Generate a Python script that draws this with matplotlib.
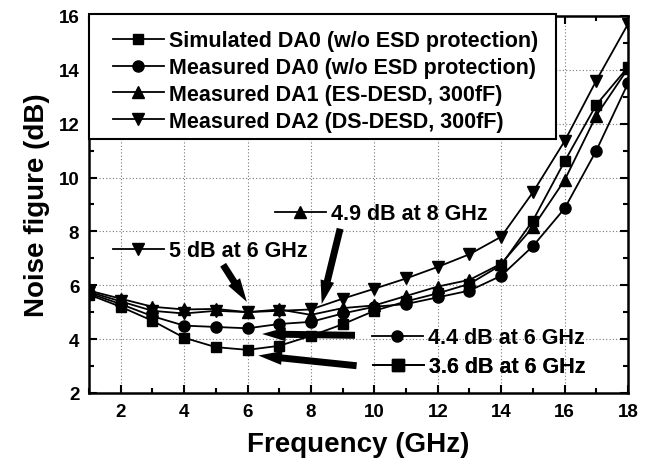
import numpy as np
import matplotlib
matplotlib.use("Agg")
import matplotlib.pyplot as plt
from matplotlib.lines import Line2D
from matplotlib.patches import Rectangle

plt.rcParams['font.family'] = ['Liberation Sans', 'DejaVu Sans']
plt.rcParams['font.weight'] = 'bold'

# noise figure data, 1-18 GHz
freq = [1, 2, 3, 4, 5, 6, 7, 8, 9, 10, 11, 12, 13, 14, 15, 16, 17, 18]
sim_da0 = [5.65, 5.2, 4.68, 4.05, 3.7, 3.6, 3.75, 4.12, 4.55, 5.05, 5.4, 5.7,
           6.05, 6.75, 8.4, 10.6, 12.7, 14.1]
meas_da0 = [5.7, 5.3, 4.85, 4.5, 4.45, 4.4, 4.56, 4.64, 4.95, 5.2, 5.3, 5.55,
            5.8, 6.35, 7.45, 8.85, 11.0, 13.5]
meas_da1 = [5.8, 5.5, 5.2, 5.1, 5.12, 5.0, 5.1, 4.9, 5.15, 5.25, 5.6, 5.95,
            6.2, 6.8, 8.15, 9.9, 12.3, 14.05]
meas_da2 = [5.75, 5.4, 5.05, 4.95, 5.05, 5.0, 5.05, 5.1, 5.5, 5.87, 6.25, 6.68,
            7.15, 7.8, 9.45, 11.35, 13.6, 15.7]

names = ['Simulated DA0 (w/o ESD protection)',
         'Measured DA0 (w/o ESD protection)',
         'Measured DA1 (ES-DESD, 300fF)',
         'Measured DA2 (DS-DESD, 300fF)']
markers = ['s', 'o', '^', 'v']
msizes = [7.5, 8, 8.5, 8.5]

fig = plt.figure(figsize=(6.52, 4.64), dpi=100)
ax = fig.add_axes([0.1365, 0.151, 0.8267, 0.8125])

series = [sim_da0, meas_da0, meas_da1, meas_da2]
for ys, m, ms, name in zip(series, markers, msizes, names):
    ax.plot(freq, ys, color='k', lw=1.3, marker=m, ms=ms, label=name)

ax.set_xlim(1, 18)
ax.set_ylim(2, 16)
ax.set_xticks(np.arange(2, 19, 2))
ax.set_yticks(np.arange(2, 17, 2))
ax.set_xticks(np.arange(1, 19, 1), minor=True)
ax.set_yticks(np.arange(3, 16, 2), minor=True)
ax.tick_params(which='both', direction='in', top=True, right=True, width=1.5)
ax.tick_params(which='major', length=6, labelsize=13.5, pad=7)
ax.tick_params(which='minor', length=3.5)
for s in ax.spines.values():
    s.set_linewidth(1.8)
ax.grid(True, which='major', color='#777777', linestyle=(0, (1, 2)), lw=0.8)

ax.set_xlabel('Frequency (GHz)', fontsize=20, fontweight='bold', labelpad=8)
ax.set_ylabel('Noise figure (dB)', fontsize=20, fontweight='bold', labelpad=6)

# legend box drawn by hand so the side padding can be wider than top/bottom
box = Rectangle((0, 0.674), 0.866, 0.331, transform=ax.transAxes,
                facecolor='white', edgecolor='k', lw=1.5, zorder=4.5,
                clip_on=False)
ax.add_patch(box)
leg = ax.legend(loc='upper left', bbox_to_anchor=(0.0445, 0.962),
                borderaxespad=0, borderpad=0, frameon=False,
                fontsize=15.5, handlelength=2.35, handletextpad=0.25,
                labelspacing=0.27)
ax.add_artist(leg)

# little marker tags next to the arrows
tags = [('v', '5 dB at 6 GHz', 0.0445, 0.377),
        ('^', '4.9 dB at 8 GHz', 0.345, 0.475),
        ('o', '4.4 dB at 6 GHz', 0.525, 0.146),
        ('s', '3.6 dB at 6 GHz', 0.527, 0.069)]
for m, txt, x, y in tags:
    h = Line2D([], [], color='k', lw=1.3, marker=m, ms=8.5 if m in '^v' else 8)
    t = ax.legend(handles=[h], labels=[txt], loc='center left',
                  bbox_to_anchor=(x, y), borderaxespad=0, borderpad=0,
                  frameon=False, fontsize=15.5, handlelength=2.35,
                  handletextpad=0.25)
    ax.add_artist(t)

# arrows (tail -> tip)
arrows = [((5.23, 6.76), (5.98, 5.38)),
          ((8.92, 8.1), (8.34, 5.3)),
          ((9.39, 4.14), (6.46, 4.19)),
          ((9.44, 3.01), (6.34, 3.39))]
for tail, tip in arrows:
    ax.annotate('', xy=tip, xytext=tail,
                arrowprops=dict(arrowstyle='simple,head_length=1.7,head_width=1.0,tail_width=0.5',
                                color='k', lw=0, shrinkA=0, shrinkB=0,
                                mutation_scale=10))

plt.savefig('out.png', dpi=100)
